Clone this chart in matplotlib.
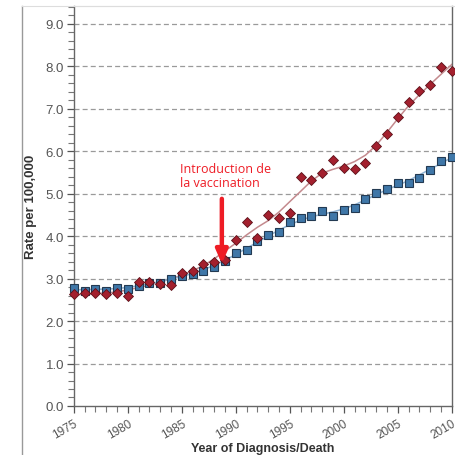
import numpy as np
import matplotlib
matplotlib.use("Agg")
import matplotlib.pyplot as plt
from matplotlib.lines import Line2D
from matplotlib.ticker import MultipleLocator

# incidence rates per 100,000, 1975-2010
years = np.arange(1975, 2011)
rate_red = [2.63, 2.65, 2.65, 2.63, 2.67, 2.58, 2.91, 2.91, 2.88, 2.85,
            3.14, 3.18, 3.35, 3.38, 3.45, 3.92, 4.33, 3.96, 4.50, 4.42,
            4.54, 5.40, 5.33, 5.48, 5.80, 5.61, 5.58, 5.73, 6.13, 6.40,
            6.80, 7.16, 7.41, 7.55, 7.98, 7.88]
rate_blue = [2.77, 2.72, 2.75, 2.71, 2.78, 2.75, 2.83, 2.90, 2.90, 2.98,
             3.06, 3.12, 3.17, 3.27, 3.42, 3.60, 3.67, 3.89, 4.02, 4.10,
             4.33, 4.42, 4.48, 4.59, 4.48, 4.62, 4.67, 4.87, 5.01, 5.11,
             5.25, 5.26, 5.36, 5.56, 5.76, 5.87]
vacc_year = 1988.7
vacc_label = "Introduction de\nla vaccination"


def loess(x, y, frac=0.25):
    # local linear fit with tricube weights
    x = np.asarray(x, float)
    y = np.asarray(y, float)
    n = len(x)
    k = max(3, int(np.ceil(frac * n)))
    out = np.empty(n)
    for i in range(n):
        d = np.abs(x - x[i])
        h = np.sort(d)[k - 1] * 1.0001
        w = np.clip(1 - (d / h) ** 3, 0, None) ** 3
        W = np.sum(w)
        xm = np.sum(w * x) / W
        ym = np.sum(w * y) / W
        b = np.sum(w * (x - xm) * (y - ym)) / np.sum(w * (x - xm) ** 2)
        out[i] = ym + b * (x[i] - xm)
    return out


fig = plt.figure(figsize=(4.56, 4.56), dpi=100)
ax = fig.add_axes([0.162, 0.1075, 0.829, 0.877])

for v in range(1, 10):
    ax.axhline(v, color="#9a9a9a", lw=0.9, ls=(0, (4, 2.5)), zorder=1)

ax.plot(years, loess(years, rate_red), color="#c48a8e", lw=1.1, zorder=2)
ax.plot(years, loess(years, rate_blue), color="#8fb3d4", lw=1.1, zorder=2)

ax.plot(years, rate_blue, ls="none", marker="s", ms=6.0, mfc="#3f77a8",
        mec="#233a52", mew=0.8, zorder=3, clip_on=False)
ax.plot(years, rate_red, ls="none", marker="D", ms=5.0, mfc="#a3202e",
        mec="#5c1018", mew=0.6, zorder=4, clip_on=False)

ax.annotate("", xy=(vacc_year, 3.35), xytext=(vacc_year, 4.88),
            arrowprops=dict(arrowstyle="-|>,head_width=0.35,head_length=0.8",
                            color="#ee1c25", lw=3.2, shrinkA=0, shrinkB=0),
            zorder=6)
ax.text(1984.8, 5.74, vacc_label, color="#ee1c25", fontsize=9,
        family="Open Sans", ha="left", va="top", linespacing=1.05, zorder=6)

ax.set_xlim(1975, 2010)
ax.set_ylim(0, 9.42)
ax.set_xticks(range(1975, 2011, 5))
ax.xaxis.set_minor_locator(MultipleLocator(1))
ax.set_yticks(np.arange(0, 9.5, 1.0))
ax.set_yticklabels([f"{v:.1f}" for v in np.arange(0, 9.5, 1.0)])
ax.yaxis.set_minor_locator(MultipleLocator(0.2))

for lab in ax.get_xticklabels():
    lab.set(rotation=30, ha="right", rotation_mode="anchor",
            family="Liberation Sans", size=8.5, color="#555555")
for lab in ax.get_yticklabels():
    lab.set(family="Liberation Sans", size=9.5, color="#555555")

ax.tick_params(axis="both", which="major", direction="out", length=5,
               width=0.9, color="#555555", pad=2)
ax.tick_params(axis="both", which="minor", direction="out", length=4,
               width=0.8, color="#777777")
ax.tick_params(axis="x", which="major", pad=3)

for side in ("left", "bottom", "right"):
    ax.spines[side].set_color("#666666")
    ax.spines[side].set_linewidth(1.0)
ax.spines["top"].set_color("#dddddd")
ax.spines["top"].set_linewidth(0.8)

ax.set_xlabel("Year of Diagnosis/Death", family="Liberation Sans",
              fontweight="bold", fontsize=9, color="#333333", labelpad=1)
ax.set_ylabel("Rate per 100,000", family="Liberation Sans",
              fontweight="bold", fontsize=9.5, color="#333333", labelpad=6)

# outer frame on the left and top
fig.add_artist(Line2D([22 / 456, 22 / 456], [0, 449 / 456],
                      color="#999999", lw=1.0, transform=fig.transFigure))
fig.add_artist(Line2D([22 / 456, 1], [449 / 456, 449 / 456],
                      color="#dddddd", lw=0.8, transform=fig.transFigure))

fig.savefig("out.png", dpi=100)
